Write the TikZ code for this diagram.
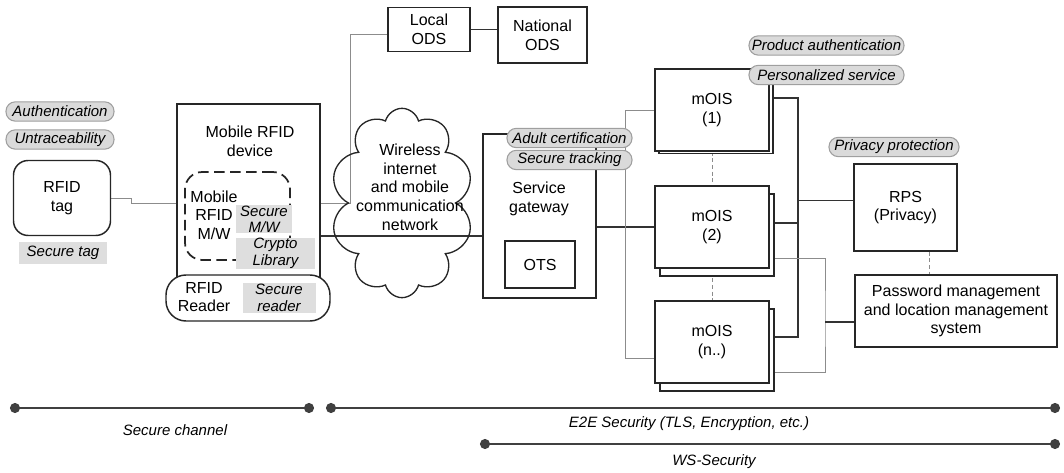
\documentclass[tikz,border=0pt]{standalone}
\usepackage{fontspec}
\setmainfont{Liberation Sans}
\usetikzlibrary{arrows.meta,shapes.symbols,backgrounds}
\definecolor{linegray}{HTML}{8C8C8C}
\definecolor{tagfill}{HTML}{DADADA}
\definecolor{boxfill}{HTML}{DEDEDE}

\begin{document}
\begin{tikzpicture}[x=0.75pt,y=-0.75pt,
  txt/.style={font=\fontsize{12}{14}\selectfont,align=center,inner sep=0pt},
  box/.style={draw=black!85,line width=1.1pt,fill=white,inner sep=0pt,
    font=\fontsize{12}{14}\selectfont,align=center},
  pill/.style={draw=gray!75,fill=tagfill,line width=0.8pt,rounded corners=7pt,
    minimum height=14.5pt,inner sep=0pt,font=\fontsize{11.25}{13.5}\selectfont\itshape},
  graybox/.style={fill=boxfill,inner sep=0pt,align=center,
    font=\fontsize{11.25}{12.5}\selectfont\itshape},
  ital/.style={font=\fontsize{11.25}{13.5}\selectfont\itshape},
  dline/.style={draw=black!80,line width=0.9pt},
  gline/.style={draw=linegray,line width=0.7pt},
  dotline/.style={draw=linegray,line width=0.6pt,densely dashed},
  secline/.style={draw=black!75,line width=1.3pt,{Circle[length=7.5pt]}-{Circle[length=7.5pt]}}]

  \useasboundingbox (0,0) rectangle (1064,473);

  % RFID tag
  \node[pill,minimum width=81pt] (auth) at (60,111.5) {Authentication};
  \node[pill,minimum width=81pt] (untr) at (60,139.5) {Untraceability};
  \node[box,rounded corners=11pt,minimum width=72.75pt,minimum height=56.25pt] (tag) at (62,198) {RFID\\tag};
  \node[graybox,minimum width=66pt,minimum height=16.5pt] (stag) at (63,253) {Secure tag};

  % Mobile RFID device
  \node[box,minimum width=107.25pt,minimum height=139.5pt] (dev) at (248.5,197) {};
  \node[txt] (devtxt) at (250,141) {Mobile RFID\\device};
  \node[draw=black!85,line width=1.3pt,dash pattern=on 8pt off 4pt,rounded corners=13pt,
    minimum width=78.75pt,minimum height=66pt] (mw) at (237.5,216) {};
  \node[txt] (mwtxt) at (214,215) {Mobile\\RFID\\M/W};
  \node[graybox,minimum width=42pt,minimum height=21pt] (smw) at (264,219.5) {Secure\\M/W};
  \node[graybox,minimum width=59.25pt,minimum height=21.75pt] (crypto) at (275.5,253.5) {Crypto\\Library};
  \node[box,rounded corners=15pt,minimum width=123pt,minimum height=34.5pt] (reader) at (248,298) {};
  \node[txt] (rdtxt) at (204,297) {RFID\\Reader};
  \node[graybox,minimum width=54.75pt,minimum height=22.5pt] (srd) at (279,298) {Secure\\reader};

  % Network
  \node[cloud,cloud puffs=10,cloud ignores aspect,draw=black!85,line width=1pt,
    minimum width=107pt,minimum height=142pt] (net) at (402,203) {};
  \node[txt] (nettxt) at (410,187) {Wireless\\internet\\and mobile\\communication\\network};

  % ODS
  \node[box,minimum width=61.5pt,minimum height=33pt] (lods) at (429,29.5) {Local\\ODS};
  \node[box,minimum width=66.75pt,minimum height=42pt] (nods) at (542.5,35) {National\\ODS};

  % Service gateway
  \node[box,minimum width=84.75pt,minimum height=123pt] (gw) at (539.5,216) {};
  \node[txt] (gwtxt) at (539,199) {Service\\gateway};
  \node[box,minimum width=52.5pt,minimum height=35.25pt] (ots) at (540,264.5) {OTS};
  \node[pill,minimum width=93.75pt] (adult) at (569.5,138) {Adult certification};
  \node[pill,minimum width=93.75pt] (track) at (569.5,160) {Secure tracking};

  % mOIS servers
  \node[box,minimum width=85.5pt,minimum height=61.5pt] (mb1) at (716,112.5) {};
  \node[box,minimum width=85.5pt,minimum height=61.5pt] (m1) at (712,110) {mOIS\\(1)};
  \node[box,minimum width=85.5pt,minimum height=61.5pt] (mb2) at (717,235) {};
  \node[box,minimum width=85.5pt,minimum height=61.5pt] (m2) at (712,227) {mOIS\\(2)};
  \node[box,minimum width=85.5pt,minimum height=61.5pt] (mbn) at (717,350) {};
  \node[box,minimum width=85.5pt,minimum height=61.5pt] (mn) at (712,342) {mOIS\\(n..)};
  \node[pill,minimum width=116.25pt] (prod) at (826.5,45.5) {Product authentication};
  \node[pill,minimum width=116.25pt] (pers) at (826.5,75) {Personalized service};

  % Privacy
  \node[box,minimum width=77.25pt,minimum height=65.25pt] (rps) at (905.5,207.5) {RPS\\(Privacy)};
  \node[pill,minimum width=97.5pt] (priv) at (894,147) {Privacy protection};
  \node[box,minimum width=151.5pt,minimum height=54pt] (pwd) at (956,311) {Password management\\and location management\\system};

  % Connections
  \begin{scope}[on background layer]
    \draw[gline] (tag.east) -- ++(20,0) |- ([yshift=-4.5pt]dev.west);
    \draw[gline] ([yshift=-4.5pt]dev.east) -- ++(30,0) |- ([yshift=-4pt]lods.west);
    \draw[dline] (lods.east) -- (lods.east -| nods.west);
    \draw[dline] ([yshift=-29.25pt]dev.east) -- ([yshift=-29.25pt]dev.east -| gw.west);
    \draw[dline] (gw.east |- m2.west) -- (m2.west);
    \draw[gline] (m1.west) -- ++(-29,0) |- ([yshift=-12pt]mn.west);
    \draw[dotline] (m1) -- (mn);
    \coordinate (bus) at (798,337);
    \draw[dline] ([yshift=10.9pt]mb1.east) -| (bus) -- (bus -| mbn.east);
    \draw[dline] ([yshift=9pt]mb2.east) -- ([yshift=9pt]mb2.east -| bus);
    \coordinate (rpsin) at ([yshift=5.5pt]rps.west);
    \draw[dline] (rpsin -| bus) -- (rpsin);
    \coordinate (gbus) at (825,322);
    \draw[gline] ([yshift=-17.25pt]mb2.east) -| (gbus) |- ([yshift=-16.5pt]mbn.east);
    \draw[dline] (gbus) -- (gbus -| pwd.west);
    \draw[dotline] ([xshift=17.6pt]rps.south) -- ([xshift=17.6pt]rps.south |- pwd.north);
  \end{scope}

  % Security ranges
  \coordinate (sc1) at (10,408);
  \coordinate (sc2) at (314,408);
  \coordinate (ee1) at (326,408);
  \coordinate (ee2) at (1060,408);
  \coordinate (ws1) at (480,444);
  \coordinate (ws2) at (1060,444);
  \draw[secline] (sc1) -- (sc2);
  \draw[secline] (ee1) -- (ee2);
  \draw[secline] (ws1) -- (ws2);
  \node[ital] (sclab) at (175,430) {Secure channel};
  \node[ital] (eelab) at (689,424) {E2E Security (TLS, Encryption, etc.)};
  \node[ital] (wslab) at (714,462) {WS-Security};
\end{tikzpicture}
\end{document}
